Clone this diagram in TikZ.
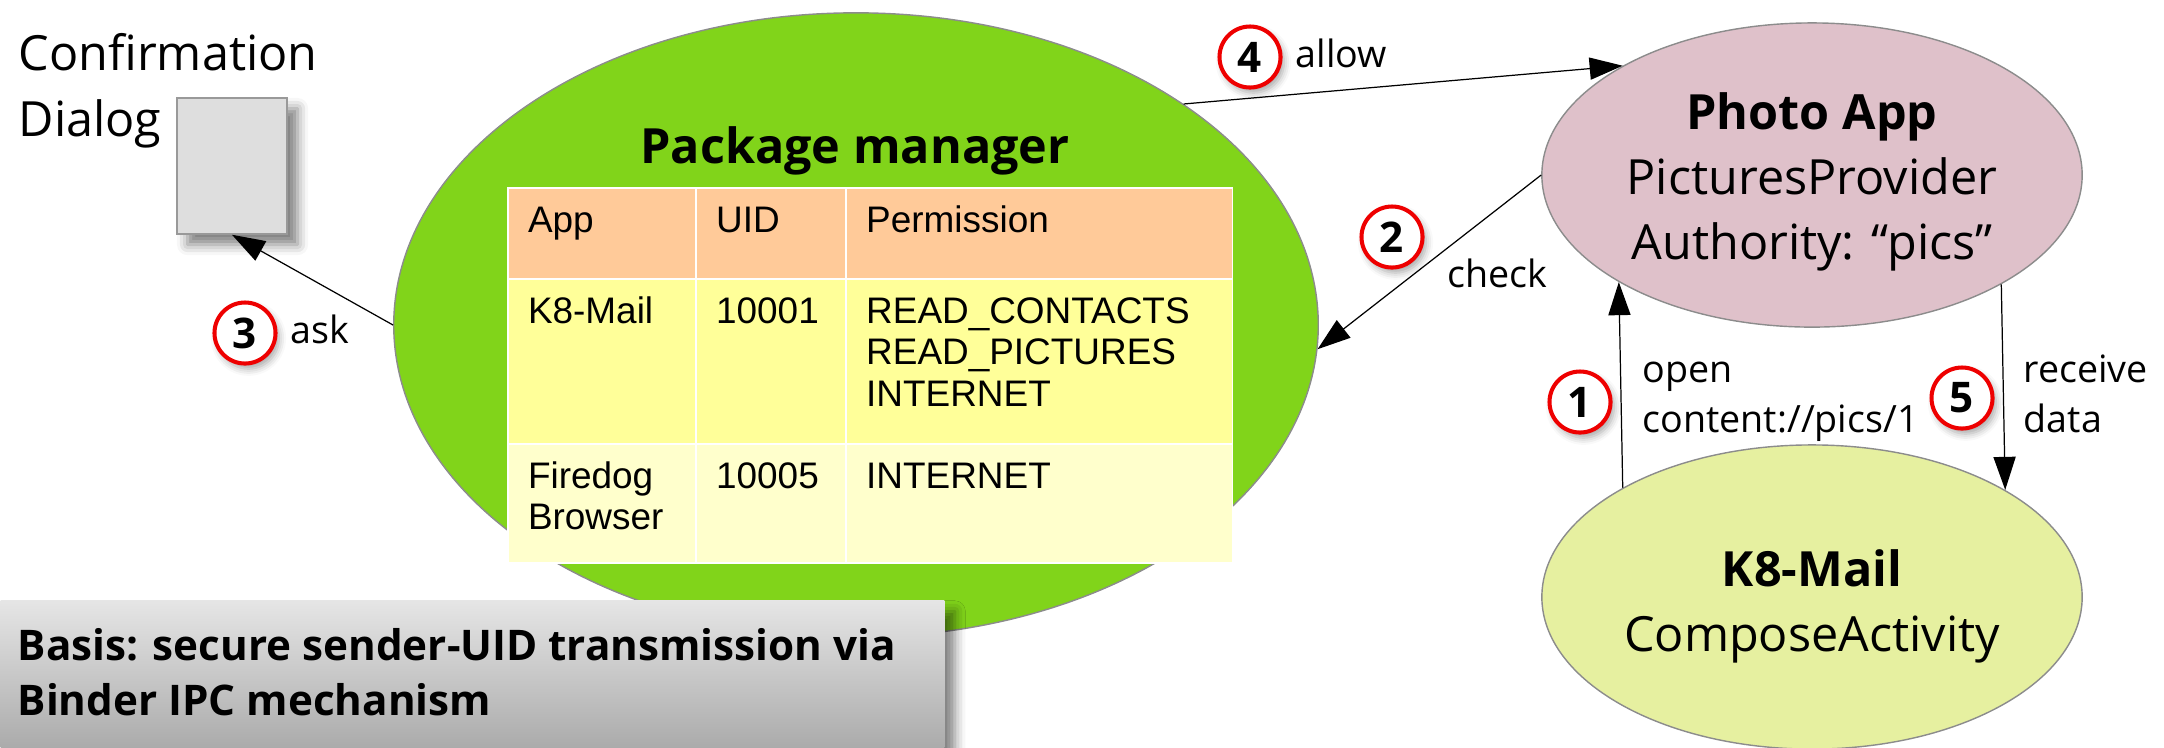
\documentclass[tikz,border=0pt]{standalone}
\usepackage{fontspec}
\setmainfont{Open Sans}
\newfontfamily\tabfont{Liberation Sans}
\usepackage{xcolor}
\usepackage{tikz}
\usetikzlibrary{shapes.geometric,arrows.meta,positioning,shadows.blur}
\definecolor{pmgreen}{HTML}{81D41A}
\definecolor{photopink}{HTML}{DFC1CA}
\definecolor{mailyellow}{HTML}{E6F0A0}
\definecolor{headpeach}{HTML}{FFCA99}
\definecolor{rowyellow}{HTML}{FFFF99}
\definecolor{rowpale}{HTML}{FFFFCC}
\definecolor{badgered}{HTML}{EE0000}

\begin{document}
\begin{tikzpicture}[x=0.01cm,y=0.01cm,
    big/.style={font=\fontsize{13.8}{18.5}\selectfont},
    bigb/.style={font=\bfseries\fontsize{13.8}{18.5}\selectfont},
    app/.style={ellipse,draw=black!45,line width=0.4pt,minimum width=5.4cm,minimum height=3.04cm,inner sep=0pt,align=center,big},
    cell/.style={draw=white,line width=0.5pt,anchor=north west,outer sep=0pt,inner xsep=0.2cm,inner ysep=0pt,text height=0.44cm,align=left,font=\tabfont\fontsize{10.5}{11.8}\selectfont},
    badge/.style={circle,draw=badgered,line width=1.15pt,fill=white,minimum size=0.61cm,inner sep=0pt,font=\bfseries\fontsize{12}{13}\selectfont,blur shadow={shadow xshift=1pt,shadow yshift=-1.5pt,shadow blur radius=2pt,shadow opacity=35}},
    lbl/.style={anchor=base west,inner sep=0pt,align=left,font=\fontsize{10.7}{14.2}\selectfont},
    arrow/.style={-{Triangle[length=9.4pt,width=6.3pt]},line width=0.35pt}]
  \useasboundingbox (0,0) rectangle (2164,-747);
  \node[ellipse,draw=black!45,line width=0.4pt,fill=pmgreen,minimum width=9.24cm,minimum height=6.24cm,inner sep=0pt] (pm) at (856,-325) {};
  \node[bigb,anchor=base,inner sep=0pt] (pmtitle) at (855,-163) {Package manager};
  \node[cell,fill=headpeach,text width=1.48cm,text depth=0.47cm] (hApp) at (508,-188) {App};
  \node[cell,fill=headpeach,text width=1.1cm,text depth=0.47cm,right=0pt of hApp] (hUid) {UID};
  \node[cell,fill=headpeach,text width=3.46cm,text depth=0.47cm,right=0pt of hUid] (hPerm) {Permission};
  \node[cell,fill=rowyellow,text width=1.48cm,text depth=1.21cm,below=0pt of hApp] (kApp) {K8-Mail};
  \node[cell,fill=rowyellow,text width=1.1cm,text depth=1.21cm,right=0pt of kApp] (kUid) {10001};
  \node[cell,fill=rowyellow,text width=3.46cm,text depth=1.21cm,right=0pt of kUid] (kPerm) {READ\_CONTACTS\\READ\_PICTURES\\INTERNET};
  \node[cell,fill=rowpale,text width=1.48cm,text depth=0.75cm,below=0pt of kApp] (fApp) {Firedog\\Browser};
  \node[cell,fill=rowpale,text width=1.1cm,text depth=0.75cm,right=0pt of fApp] (fUid) {10005};
  \node[cell,fill=rowpale,text width=3.46cm,text depth=0.75cm,right=0pt of fUid] (fPerm) {INTERNET};
  \node[anchor=north west,minimum width=9.43cm,minimum height=1.47cm,inner sep=0pt,top color=black!10,bottom color=black!33,blur shadow={shadow xshift=3pt,shadow yshift=-3pt,shadow blur radius=3pt,shadow opacity=50}] (basis) at (0,-600) {};
  \node[anchor=base west,inner sep=0pt,align=left,font=\bfseries\fontsize{12}{15.6}\selectfont] (basistxt) at (17,-715) {Basis: secure sender-UID transmission via\\Binder IPC mechanism};
  \node[big,anchor=base west,inner sep=0pt,align=left] (conf) at (18,-136) {Confirmation\\Dialog};
  \node[draw=black!40,fill=black!13,minimum width=1.1cm,minimum height=1.36cm,inner sep=0pt,blur shadow={shadow xshift=3pt,shadow yshift=-3pt,shadow blur radius=3pt,shadow opacity=50}] (dlg) at (232,-166) {};
  \node[app,fill=photopink,text height=1.8cm] (photo) at (1812,-175) {\textbf{Photo App}\\PicturesProvider\\Authority: “pics”};
  \node[app,fill=mailyellow,text height=1.2cm] (k8) at (1812,-597) {\textbf{K8-Mail}\\ComposeActivity};
  \draw[arrow] (pm.west) -- (dlg.south);
  \draw[arrow] (pm.34.5) -- (photo.150.6);
  \draw[arrow] (photo.west) -- (pm.-3.5);
  \draw[arrow] (k8.150.6) -- (photo.209.4);
  \draw[arrow] (photo.330.6) -- (k8.29.4);
  \node[badge] (n3) at (245,-333) {3};
  \node[badge] (n4) at (1250,-57) {4};
  \node[badge] (n2) at (1392,-237) {2};
  \node[badge] (n1) at (1580,-402) {1};
  \node[badge] (n5) at (1962,-398) {5};
  \node[lbl] (ask) at (290,-343) {ask};
  \node[lbl] (allow) at (1295,-67) {allow};
  \node[lbl] (check) at (1447,-287) {check};
  \node[lbl] (open) at (1642,-432) {open\\content://pics/1};
  \node[lbl] (recv) at (2023,-432) {receive\\data};
\end{tikzpicture}
\end{document}
